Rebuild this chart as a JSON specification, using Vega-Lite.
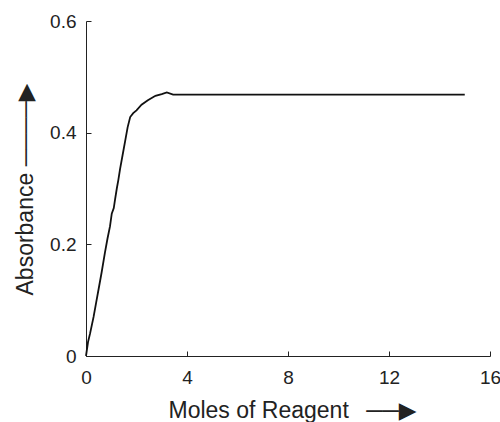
{
  "$schema": "https://vega.github.io/schema/vega-lite/v6.json",
  "autosize": {"type": "none"},
  "padding": {"left": 86, "top": 21, "right": 10, "bottom": 66},
  "width": 404,
  "height": 335,
  "background": "white",
  "config": {
    "view": {"stroke": null},
    "axis": {
      "grid": false,
      "labelFlush": false,
      "labelOverlap": false,
      "domainColor": "#222",
      "domainWidth": 1,
      "tickColor": "#222",
      "tickWidth": 1,
      "tickSize": -5,
      "labelFont": "Liberation Sans",
      "labelFontSize": 19,
      "labelColor": "#222",
      "titleFont": "Liberation Sans, DejaVu Sans",
      "titleFontSize": 23,
      "titleFontWeight": "normal",
      "titleColor": "#222"
    }
  },
  "data": {
    "values": [
      {"moles": 0, "abs": 0},
      {"moles": 0.08, "abs": 0.025},
      {"moles": 0.16, "abs": 0.04},
      {"moles": 0.3, "abs": 0.07},
      {"moles": 0.4, "abs": 0.095},
      {"moles": 0.5, "abs": 0.12},
      {"moles": 0.62, "abs": 0.15},
      {"moles": 0.75, "abs": 0.185},
      {"moles": 0.85, "abs": 0.21},
      {"moles": 0.95, "abs": 0.232},
      {"moles": 1.02, "abs": 0.255},
      {"moles": 1.1, "abs": 0.265},
      {"moles": 1.15, "abs": 0.28},
      {"moles": 1.22, "abs": 0.3},
      {"moles": 1.28, "abs": 0.315},
      {"moles": 1.35, "abs": 0.335},
      {"moles": 1.45, "abs": 0.36},
      {"moles": 1.55, "abs": 0.385},
      {"moles": 1.65, "abs": 0.41},
      {"moles": 1.75, "abs": 0.428},
      {"moles": 1.87, "abs": 0.435},
      {"moles": 2.0, "abs": 0.44},
      {"moles": 2.2, "abs": 0.45},
      {"moles": 2.45, "abs": 0.458},
      {"moles": 2.75, "abs": 0.466},
      {"moles": 3.0, "abs": 0.469},
      {"moles": 3.2, "abs": 0.472},
      {"moles": 3.45, "abs": 0.468},
      {"moles": 15, "abs": 0.468}
    ]
  },
  "mark": {"type": "line", "color": "#111", "strokeWidth": 1.8},
  "encoding": {
    "x": {
      "field": "moles",
      "type": "quantitative",
      "scale": {"domain": [0, 16], "nice": false, "zero": true},
      "axis": {
        "values": [0, 4, 8, 12, 16],
        "format": "d",
        "labelPadding": 17,
        "title": "Moles of Reagent \u00a0\u2009──▶",
        "titleAlign": "left",
        "titleBaseline": "alphabetic",
        "titleX": 82,
        "titleY": 61
      }
    },
    "y": {
      "field": "abs",
      "type": "quantitative",
      "scale": {"domain": [0, 0.6], "nice": false},
      "axis": {
        "values": [0, 0.2, 0.4, 0.6],
        "labelExpr": "datum.value == 0 ? '0' : format(datum.value, '.1f')",
        "labelPadding": 15,
        "title": "Absorbance ────▶",
        "titleAngle": 270,
        "titleAlign": "left",
        "titleBaseline": "alphabetic",
        "titleX": -54,
        "titleY": 274
      }
    }
  }
}
